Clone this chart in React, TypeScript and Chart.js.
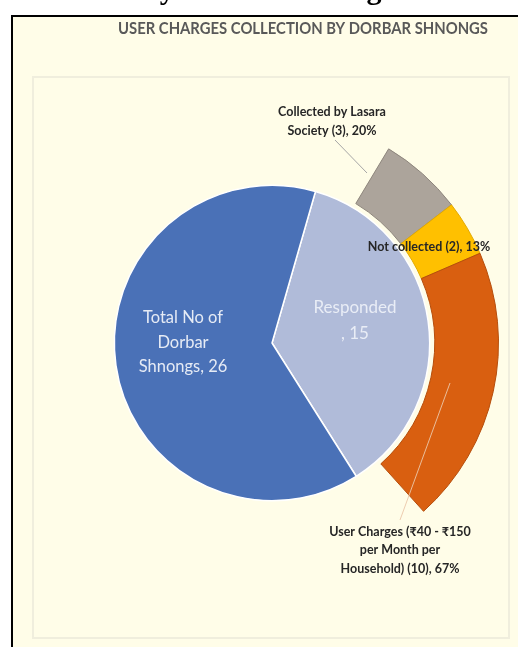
import React, { useEffect, useRef } from "react";
import { Chart, registerables } from "chart.js";

Chart.register(...registerables);

// ---- data ----
const pieLabels = ["Responded", "Total No of Dorbar Shnongs"];
const pieValues = [15, 26];
const ringLabels = ["Collected by Lasara Society", "Not collected", "User Charges (₹40 - ₹150 per Month per Household)"];
const ringValues = [3, 2, 10];
const ringPercents = [20, 13, 67];
const chartTitle = "USER CHARGES COLLECTION BY DORBAR SHNONGS";
const captionText = "by Dorbar Shnongs";

// ---- styles ----
const pieColors = ["#B0BBD9", "#4A71B7"];
const ringColors = ["#ACA49B", "#FFC000", "#D95F10"];
const ringBorders = ["#8E867D", "#E3AA00", "#B64E0C"];
const CREAM = "#FFFDE8";
const FONT = "Lato, 'DejaVu Sans', sans-serif";

const pieLines = [
  ["Responded", `, ${pieValues[0]}`],
  ["Total No of", "Dorbar", `Shnongs, ${pieValues[1]}`],
];
const ringLines = [
  ["Collected by Lasara", `Society (${ringValues[0]}), ${ringPercents[0]}%`],
  [`Not collected (${ringValues[1]}), ${ringPercents[1]}%`],
  ["User Charges (₹40 - ₹150", "per Month per", `Household) (${ringValues[2]}), ${ringPercents[2]}%`],
];

const decorPlugin = {
  id: "decor",
  beforeDraw(chart: any) {
    const ctx = chart.ctx;
    const W = chart.width;
    const H = chart.height;
    ctx.save();
    ctx.fillStyle = "#ffffff";
    ctx.fillRect(0, 0, W, H);
    // outer framed area
    ctx.fillStyle = CREAM;
    ctx.fillRect(12, 16, W - 12, H - 16);
    ctx.strokeStyle = "#000000";
    ctx.lineWidth = 2;
    ctx.beginPath();
    ctx.moveTo(12, H);
    ctx.lineTo(12, 16);
    ctx.lineTo(W, 16);
    ctx.stroke();
    // inner panel
    ctx.strokeStyle = "#F0EEDD";
    ctx.lineWidth = 2;
    ctx.strokeRect(33, 77, 476, 561);
    // cut caption
    ctx.fillStyle = "#000000";
    ctx.font = "bold 30px 'Liberation Serif', serif";
    ctx.textAlign = "left";
    ctx.textBaseline = "alphabetic";
    ctx.fillText(captionText, 143, -1);
    // title
    ctx.fillStyle = "#595959";
    ctx.font = `bold 17px ${FONT}`;
    ctx.textAlign = "center";
    ctx.textBaseline = "middle";
    const w = ctx.measureText(chartTitle).width;
    const sx = 370 / w;
    ctx.translate(303, 29);
    ctx.scale(sx, 1);
    ctx.fillText(chartTitle, 0, 0);
    ctx.restore();
  },
};

const labelPlugin = {
  id: "labels",
  afterDatasetsDraw(chart: any) {
    const ctx = chart.ctx;
    const pieMeta = chart.getDatasetMeta(2);
    const arc = pieMeta.data[0];
    const cx = arc.x;
    const cy = arc.y;
    ctx.save();
    ctx.textAlign = "center";
    ctx.textBaseline = "middle";

    const drawLines = (lines: string[], x: number, ys: number[]) => {
      lines.forEach((l, i) => ctx.fillText(l, x, ys[i]));
    };

    // pie labels
    ctx.font = `17px ${FONT}`;
    ctx.fillStyle = "#E9EDF6";
    drawLines(pieLines[0], cx + 83, [cy - 35, cy - 9]);
    ctx.font = `16.5px ${FONT}`;
    ctx.fillStyle = "#E6EBF5";
    drawLines(pieLines[1], cx - 89, [cy - 25, cy, cy + 24]);

    // leader lines
    ctx.lineWidth = 1;
    ctx.strokeStyle = "#A6A6A6";
    ctx.beginPath();
    ctx.moveTo(cx + 63, cy - 203);
    ctx.lineTo(cx + 95, cy - 170);
    ctx.stroke();
    ctx.strokeStyle = "rgba(235,200,170,0.9)";
    ctx.beginPath();
    ctx.moveTo(cx + 178, cy + 40);
    ctx.lineTo(cx + 128, cy + 177);
    ctx.stroke();

    // ring labels
    ctx.font = `bold 12.5px ${FONT}`;
    ctx.fillStyle = "#262626";
    drawLines(ringLines[0], cx + 60, [cy - 231, cy - 212]);
    drawLines(ringLines[1], cx + 157, [cy - 96]);
    drawLines(ringLines[2], cx + 128, [cy + 189, cy + 207, cy + 226]);
    ctx.restore();
  },
};

export default function App() {
  const ref = useRef<HTMLCanvasElement>(null);
  useEffect(() => {
    if (!ref.current) return;
    const chart = new Chart(ref.current, {
      type: "doughnut",
      data: {
        labels: ringLabels,
        datasets: [
          {
            label: "Responses",
            data: ringValues,
            backgroundColor: ringColors,
            borderColor: ringBorders,
            borderWidth: 1,
            rotation: 31,
            circumference: 107,
            weight: 64,
          } as any,
          {
            label: "gap",
            data: [1],
            backgroundColor: ["rgba(0,0,0,0)"],
            borderWidth: 0,
            weight: 5,
          } as any,
          {
            label: "Dorbar Shnongs",
            data: pieValues,
            backgroundColor: pieColors,
            borderColor: "#ffffff",
            borderWidth: 1.5,
            rotation: 16,
            weight: 158,
          } as any,
        ],
      },
      options: {
        responsive: false,
        animation: false,
        devicePixelRatio: 1,
        cutout: 0,
        layout: { padding: { left: 45, right: 19, top: 116, bottom: 77 } },
        plugins: {
          legend: { display: false },
          tooltip: { enabled: false },
          title: { display: false },
        },
        events: [],
      } as any,
      plugins: [decorPlugin, labelPlugin],
    });
    return () => chart.destroy();
  }, []);
  return (
    <div style={{ position: "absolute", left: 0, top: 0, width: 518, height: 647 }}>
      <canvas ref={ref} width={518} height={647} style={{ display: "block", width: 518, height: 647 }} />
    </div>
  );
}
